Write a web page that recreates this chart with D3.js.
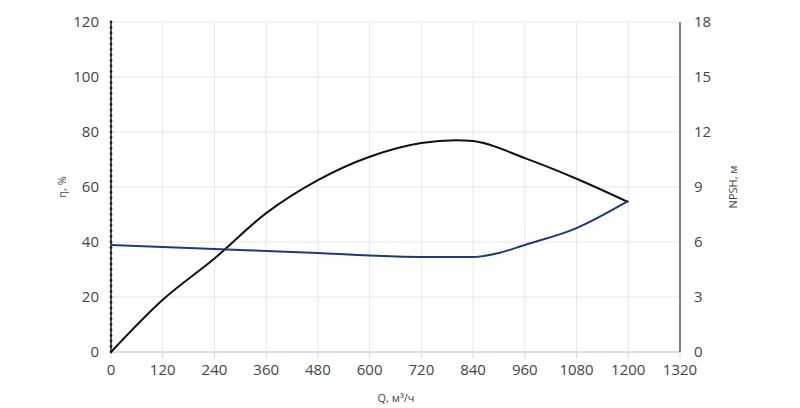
<!DOCTYPE html>
<html><head><meta charset="utf-8">
<script src="https://cdn.jsdelivr.net/npm/d3@7"></script>
<style>body{margin:0;background:#fff}text{font-family:"Open Sans",sans-serif;fill:#444}</style>
</head><body><svg id="c" width="800" height="408"></svg>
<script>
const qTicks = [0,120,240,360,480,600,720,840,960,1080,1200,1320]
const etaTicks = [0,20,40,60,80,100,120]
const npshTicks = [0,3,6,9,12,15,18]
const effQ = [0,120,240,360,480,600,720,800,840,960,1080,1200]
const effVal = [0,19,34,50.5,62.5,71,76,77,76.7,70.5,63,54.5]
const npshQ = [0,240,480,600,720,840,900,960,1080,1200]
const npshVal = [5.84,5.62,5.4,5.26,5.18,5.18,5.4,5.84,6.76,8.24]

const svg = d3.select('#c')
const L = 111, R = 680, T = 22, B = 352
const x = d3.scaleLinear().domain([0,1320]).range([L,R])
const y = d3.scaleLinear().domain([0,120]).range([B,T])
const y2 = d3.scaleLinear().domain([0,18]).range([B,T])

// grid
svg.selectAll('.vg').data(qTicks.slice(1,-1)).enter().append('line')
  .attr('x1', d => x(d)).attr('x2', d => x(d)).attr('y1', T).attr('y2', B)
  .attr('stroke', '#e6e6ec')
svg.selectAll('.hg').data(etaTicks.slice(1)).enter().append('line')
  .attr('x1', L).attr('x2', R).attr('y1', d => y(d)).attr('y2', d => y(d))
  .attr('stroke', '#e6e6ec')

// bottom axis
svg.append('line').attr('x1', L).attr('x2', R).attr('y1', B).attr('y2', B).attr('stroke', '#ccd6eb').attr('stroke-width', 1.5)
svg.selectAll('.xt').data(qTicks).enter().append('line')
  .attr('x1', d => x(d)).attr('x2', d => x(d)).attr('y1', B).attr('y2', B + 6).attr('stroke', '#ccd6eb')
svg.selectAll('.xl').data(qTicks).enter().append('text')
  .attr('x', d => x(d)).attr('y', B + 23).attr('text-anchor', 'middle').attr('font-size', 15).text(d => d)
svg.append('text').attr('x', 396).attr('y', 402).attr('text-anchor', 'middle').attr('font-size', 11).text('Q, м³/ч')

// left axis
svg.append('line').attr('x1', L).attr('x2', L).attr('y1', T).attr('y2', B).attr('stroke', '#222').attr('stroke-width', 1.5)
svg.selectAll('.ld').data(d3.range(0, 121, 2)).enter().append('circle')
  .attr('cx', L).attr('cy', d => y(d)).attr('r', 1.4).attr('fill', '#222')
svg.selectAll('.yl').data(etaTicks).enter().append('text')
  .attr('x', L - 12).attr('y', d => y(d) + 5).attr('text-anchor', 'end').attr('font-size', 15).text(d => d)
svg.append('text').attr('transform', 'translate(66,187) rotate(-90)').attr('text-anchor', 'middle').attr('font-size', 11).text('η, %')

// right axis
svg.append('line').attr('x1', R).attr('x2', R).attr('y1', T).attr('y2', B).attr('stroke', '#555').attr('stroke-width', 1.5)
svg.selectAll('.yr').data(npshTicks).enter().append('text')
  .attr('x', R + 14).attr('y', d => y2(d) + 5).attr('text-anchor', 'start').attr('font-size', 15).text(d => d)
svg.append('text').attr('transform', 'translate(737,187) rotate(-90)').attr('text-anchor', 'middle').attr('font-size', 11).text('NPSH, м')

// curves
const effLine = d3.line().x((d, i) => x(effQ[i])).y(d => y(d)).curve(d3.curveMonotoneX)
svg.append('path').attr('d', effLine(effVal)).attr('fill', 'none').attr('stroke', '#111').attr('stroke-width', 2)
const npshLine = d3.line().x((d, i) => x(npshQ[i])).y(d => y2(d)).curve(d3.curveMonotoneX)
svg.append('path').attr('d', npshLine(npshVal)).attr('fill', 'none').attr('stroke', '#1f3a7a').attr('stroke-width', 2)
</script></body></html>
